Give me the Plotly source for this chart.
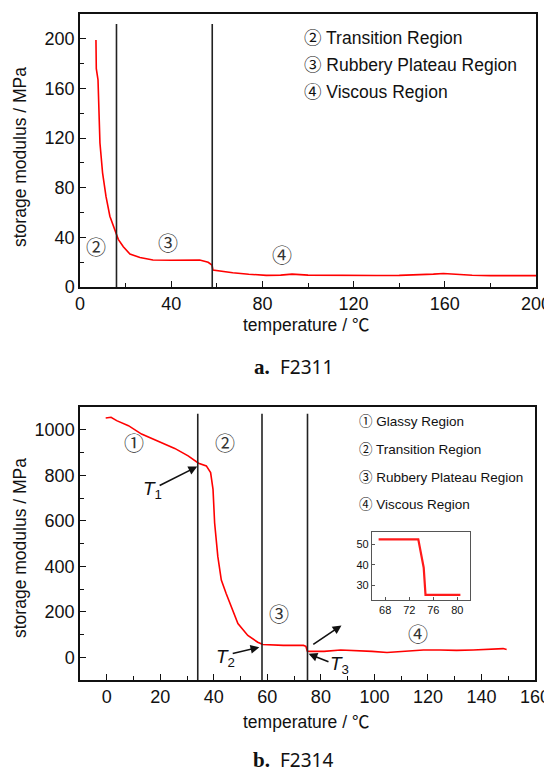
import plotly.graph_objects as go

# ---------------- data: F2311 (top) ----------------
temp_a = [7.0, 7.15, 7.9, 8.3, 8.75, 9.9, 11.4, 13.1, 15.3, 16.8, 19.0, 21.9, 26.3, 32.0,
          40.0, 46.0, 52.5, 56.2, 57.9, 58.3, 62.0, 67.0, 74.0, 81.7, 88.0, 93.0, 100.0,
          110.0, 120.0, 130.0, 140.0, 150.0, 155.0, 159.4, 165.0, 172.0, 180.0, 190.0, 200.0]
mod_a = [199, 176, 167, 143, 116, 92, 73, 57, 45, 38.4, 32.5, 26.6, 23.7, 21.8,
         21.6, 21.6, 21.8, 19.9, 17.7, 13.7, 12.6, 11.5, 10.3, 9.4, 9.6, 10.4, 9.6,
         9.3, 9.3, 9.3, 9.4, 9.8, 10.4, 10.9, 10.2, 9.5, 9.2, 9.2, 9.2]
bounds_a = [16, 58]

# ---------------- data: F2314 (bottom) ----------------
temp_b = [-0.4, 1.6, 3.7, 8.1, 13.0, 16.7, 20.4, 25.4, 30.4, 34.3, 37.2, 38.8, 39.7, 40.3,
          41.5, 42.8, 44.6, 46.5, 49.0, 52.7, 56.4, 58.3, 62.0, 66.0, 70.0, 73.5, 74.4,
          74.9, 75.6, 81.2, 87.4, 93.6, 99.1, 104.7, 110.9, 118.3, 124.5, 130.7, 136.9,
          143.1, 148.1, 149.4]
mod_b = [1052, 1055, 1040, 1018, 981, 962, 944, 918, 885, 853, 841, 812, 738, 590,
         442, 339, 280, 221, 148, 96, 66, 56, 53, 52, 52, 52, 48,
         27, 26, 26, 32, 30, 26, 21, 26, 32, 32, 30, 32,
         34, 38, 34]
bounds_b = [34, 58, 75]

# inset (zoom around T3)
inset_t = [66.9, 73.5, 74.4, 74.7, 80.5]
inset_m = [52.4, 52.4, 38.5, 25.2, 25.2]

# characteristic points T1, T2, T3 (temperature, modulus)
T_pts_t = [33.8, 57.0, 75.4]
T_pts_m = [838, 44, 15]
T_names = ["1", "2", "3"]

legend_a = ["② Transition Region", "③ Rubbery Plateau Region", "④ Viscous Region"]
legend_b = ["① Glassy Region", "② Transition Region", "③ Rubbery Plateau Region", "④ Viscous Region"]

W, H = 552, 774
OX, OY = 8, 8  # page body margin offset
FONT = "Liberation Sans, Arial, Noto Sans CJK SC"
CJK = "Noto Sans CJK SC"


def px(x):
    return (x - OX) / W


def py(y):
    return 1 - (y - OY) / H


fig = go.Figure()
fig.add_trace(go.Scatter(x=temp_a, y=mod_a, mode="lines", line=dict(color="#ff0000", width=1.6),
                         xaxis="x", yaxis="y", showlegend=False, hoverinfo="skip"))
fig.add_trace(go.Scatter(x=temp_b, y=mod_b, mode="lines", line=dict(color="#ff0000", width=1.6),
                         xaxis="x2", yaxis="y2", showlegend=False, hoverinfo="skip"))
fig.add_trace(go.Scatter(x=inset_t, y=inset_m, mode="lines", line=dict(color="#ff1a1a", width=2.2),
                         xaxis="x3", yaxis="y3", showlegend=False, hoverinfo="skip"))

tickfont = dict(family=FONT, size=18, color="#111")
axis_common = dict(showline=True, linecolor="#111", linewidth=1.5, mirror=True, ticks="inside",
                   ticklen=6, tickwidth=1.2, tickcolor="#111", showgrid=False, zeroline=False,
                   tickfont=tickfont, automargin=False)
inset_common = dict(showline=True, linecolor="#555", linewidth=1.2, mirror=True,
                    ticks="inside", ticklen=3, tickcolor="#555", showgrid=False, zeroline=False,
                    tickfont=dict(family=FONT, size=11, color="#111"), automargin=False)

fig.update_layout(
    width=W, height=H, margin=dict(l=0, r=0, t=0, b=0, autoexpand=False),
    paper_bgcolor="white", plot_bgcolor="white",
    xaxis=dict(domain=[px(80), px(536)], range=[0, 200], tick0=0, dtick=40, anchor="y",
               minor=dict(ticks="inside", dtick=20, ticklen=4, tickcolor="#111"), **axis_common),
    yaxis=dict(domain=[py(287), py(14)], range=[0, 220], tick0=0, dtick=40, anchor="x",
               minor=dict(ticks="inside", dtick=20, ticklen=4, tickcolor="#111"), **axis_common),
    xaxis2=dict(domain=[px(80), px(535)], range=[-10, 160], tick0=0, dtick=20, anchor="y2",
                minor=dict(ticks="inside", dtick=10, ticklen=4, tickcolor="#111"), **axis_common),
    yaxis2=dict(domain=[py(680), py(407)], range=[-100, 1100], tick0=0, dtick=200, anchor="x2",
                minor=dict(ticks="inside", dtick=100, ticklen=4, tickcolor="#111"), **axis_common),
    xaxis3=dict(domain=[px(372), px(470)], range=[65.8, 82.1], tickvals=[68, 72, 76, 80],
                anchor="y3", **inset_common),
    yaxis3=dict(domain=[py(600), py(532)], range=[22.7, 56], tickvals=[30, 40, 50],
                anchor="x3", **inset_common),
)

shapes = []
for b in bounds_a:
    shapes.append(dict(type="line", xref="x", yref="y", x0=b, x1=b, y0=0, y1=212,
                       line=dict(color="#222", width=1.6)))
for b in bounds_b:
    shapes.append(dict(type="line", xref="x2", yref="y2", x0=b, x1=b, y0=-100, y1=1070,
                       line=dict(color="#222", width=1.6)))
fig.update_layout(shapes=shapes)

ann = []
# axis titles
for yc in (157, 548):
    ann.append(dict(xref="paper", yref="paper", x=px(20), y=py(yc), text="storage modulus / MPa",
                    textangle=-90, showarrow=False, xanchor="center", yanchor="middle",
                    font=dict(family=FONT, size=17.5, color="#111")))
for yc in (325, 722):
    ann.append(dict(xref="paper", yref="paper", x=px(306), y=py(yc), text="temperature / ℃",
                    showarrow=False, xanchor="center", yanchor="middle",
                    font=dict(family=FONT, size=17.5, color="#111")))

# legends (text lists)
for i, t in enumerate(legend_a):
    ann.append(dict(xref="paper", yref="paper", x=px(302), y=py(38 + 27 * i), text=t,
                    xanchor="left", yanchor="middle", showarrow=False,
                    font=dict(family=FONT, size=17.5, color="#111")))
for i, t in enumerate(legend_b):
    ann.append(dict(xref="paper", yref="paper", x=px(357), y=py(422 + 27.5 * i), text=t,
                    xanchor="left", yanchor="middle", showarrow=False,
                    font=dict(family=FONT, size=13.5, color="#111")))

# region numbers
reg_font = dict(family=CJK, size=20, color="#333")
for (x, y, t) in [(7, 33, "②"), (38.5, 35.5, "③"), (88.4, 25.8, "④")]:
    ann.append(dict(xref="x", yref="y", x=x, y=y, text=t, showarrow=False, font=reg_font))
for (x, y, t) in [(10.3, 944, "①"), (44.2, 944, "②"), (64.3, 193, "③"), (116.2, 104, "④")]:
    ann.append(dict(xref="x2", yref="y2", x=x, y=y, text=t, showarrow=False, font=reg_font))

# T arrows
tails = [(19.2, 752), (46.5, 15), (83.4, -22)]
labels = [(17.0, 735), (44.4, -5), (86.8, -33)]
for (tx, tm), (ax, ay), (lx, ly), n in zip(zip(T_pts_t, T_pts_m), tails, labels, T_names):
    ann.append(dict(xref="x2", yref="y2", x=tx, y=tm, axref="x2", ayref="y2", ax=ax, ay=ay,
                    text="", showarrow=True, arrowhead=2, arrowsize=1.1, arrowwidth=1.6,
                    arrowcolor="#111"))
    ann.append(dict(xref="x2", yref="y2", x=lx, y=ly, text="<i>T</i><sub>" + n + "</sub>",
                    showarrow=False, font=dict(family=FONT, size=19, color="#111")))
# arrow toward inset
ann.append(dict(xref="x2", yref="y2", x=87.7, y=140, axref="x2", ayref="y2", ax=76.6, ay=52,
                text="", showarrow=True, arrowhead=2, arrowsize=1.1, arrowwidth=1.6,
                arrowcolor="#111"))

# captions
for yc, lab, name in [(367, "a.", "F2311"), (760, "b.", "F2314")]:
    ann.append(dict(xref="paper", yref="paper", x=px(272), y=py(yc), text="<b>" + lab + "</b>",
                    xanchor="right", yanchor="middle", showarrow=False,
                    font=dict(family="Liberation Serif", size=21, color="#111")))
    ann.append(dict(xref="paper", yref="paper", x=px(278), y=py(yc), text=name,
                    xanchor="left", yanchor="middle", showarrow=False,
                    font=dict(family="Noto Sans", size=19, color="#111")))

fig.update_layout(annotations=ann)
fig.write_html("out.html")
